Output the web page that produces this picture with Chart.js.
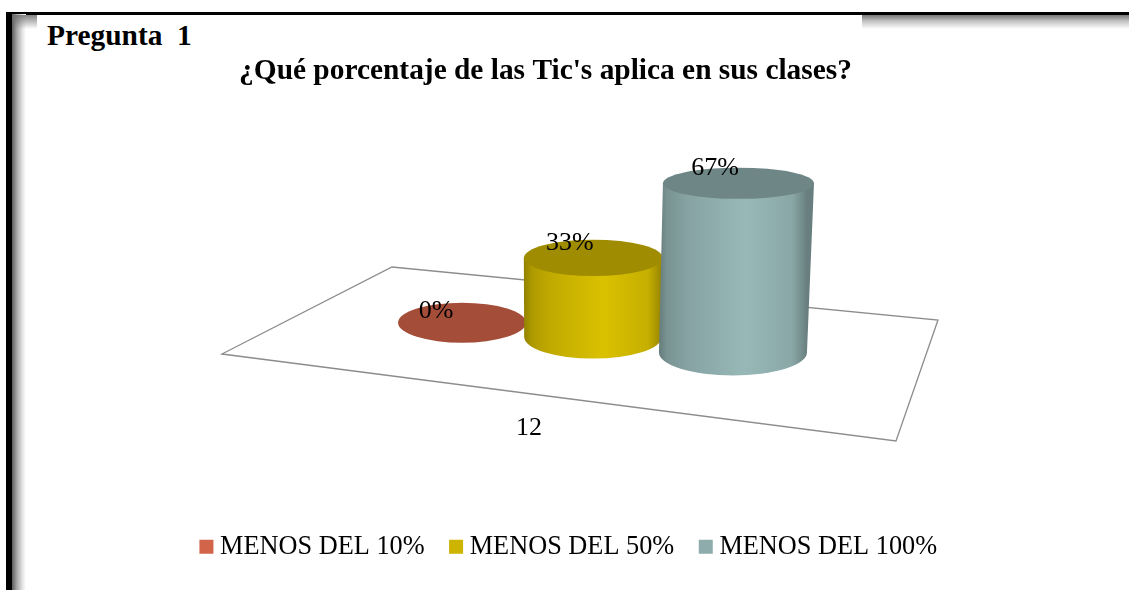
<!DOCTYPE html>
<html lang="es">
<head>
<meta charset="utf-8">
<script src="https://cdn.jsdelivr.net/npm/chart.js@4"></script>
<style>
html,body{margin:0;padding:0;background:#fff;overflow:hidden}
#page{position:relative;width:1129px;height:590px;overflow:hidden;background:#fff}
#page div{position:absolute}
#lineTop{left:6px;top:12px;right:0;height:2.5px;background:#000}
#lineLeft{left:6px;top:12px;width:5.5px;bottom:0;background:#000}
#shadeLeft{left:11.5px;top:14px;width:14px;bottom:0;background:linear-gradient(to right,#5c5c5c,#a8a8a8 35%,#e4e4e4 75%,#fff)}
#shadeTopA{left:11.5px;top:14.5px;width:25px;height:14px;background:linear-gradient(to bottom,rgba(110,110,110,.85),rgba(255,255,255,0))}
#shadeTopB{left:862px;top:14.5px;right:0;height:14px;background:linear-gradient(to bottom,#777,#c4c4c4 45%,#fff)}
#heading{left:47px;top:18px;font:bold 29.4px/34px "Liberation Serif",serif;color:#000;white-space:pre}
canvas{position:absolute;left:0;top:0}
</style>
</head>
<body>
<div id="page">
  <div id="lineTop"></div><div id="shadeLeft"></div><div id="shadeTopA"></div><div id="shadeTopB"></div><div id="lineLeft"></div>
  <div id="heading">Pregunta  1</div>
  <canvas id="c" width="1129" height="590"></canvas>
</div>
<script>
const titleText = "¿Qué porcentaje de las Tic's aplica en sus clases?";
const categories = ["12"];
const seriesNames = ["MENOS DEL 10%", "MENOS DEL 50%", "MENOS DEL 100%"];
const seriesValues = [0, 33, 67];
const seriesColors = ["#d2644a", "#ccb400", "#8eacac"];
const valueLabels = ["0%", "33%", "67%"];

const FLOOR = [[222,354],[392,267],[938,320],[896,441]];
const SERIF = '"Liberation Serif", serif';

function shade(hex, f){
  const n = parseInt(hex.slice(1),16);
  const c = s => Math.min(255,Math.round(((n>>s)&255)*f));
  return `rgb(${c(16)},${c(8)},${c(0)})`;
}
/* camera: maps a bar from the library's scales onto the tilted floor */
function project(bar){
  const x0 = bar.x + 28.5;
  const cx = x0 + 0.000262*(x0-462)*(x0-593);
  const rx = bar.width/2 + (cx-462)*0.037;
  const yb = bar.base + (cx-462)*0.11;
  const ryb = 20 + (cx-462)*0.011;
  const h = (bar.base-bar.y)*(0.967+(cx-593)*0.00036);
  return {
    cx, rx, yb, ryb, h,
    cxt: cx + h*(cx-570)*0.0002,
    rxt: rx + h*0.009,
    yt: yb-h,
    ryt: ryb*(1-h*0.0019)
  };
}
function drawCylinder(ctx, bar){
  const p = project(bar);
  const col = bar.options.backgroundColor;
  ctx.save();
  if(p.h>1){
    const g = ctx.createLinearGradient(p.cx-p.rx,0,p.cx+p.rx,0);
    g.addColorStop(0,shade(col,.72));
    g.addColorStop(.06,shade(col,.86));
    g.addColorStop(.2,shade(col,.95));
    g.addColorStop(.58,shade(col,1.07));
    g.addColorStop(.9,shade(col,.97));
    g.addColorStop(1,shade(col,.74));
    ctx.fillStyle=g;
    ctx.beginPath();
    ctx.moveTo(p.cxt-p.rxt,p.yt);
    ctx.lineTo(p.cx-p.rx,p.yb);
    ctx.ellipse(p.cx,p.yb,p.rx,p.ryb,0,Math.PI,0,true);
    ctx.lineTo(p.cxt+p.rxt,p.yt);
    ctx.closePath();
    ctx.fill();
  }
  ctx.fillStyle=shade(col,.78);
  ctx.beginPath();
  ctx.ellipse(p.cxt,p.yt,p.rxt,p.ryt,0,0,Math.PI*2);
  ctx.fill();
  ctx.restore();
}
/* the library walks datasets last-to-first; cylinders must paint left-to-right */
Chart.BarElement.prototype.draw = function(){};

const floorPlugin = {
  id:'floor',
  beforeDatasetsDraw(chart){
    const c=chart.ctx;
    c.save();
    c.strokeStyle='#8c8c8c';c.lineWidth=1.3;c.lineJoin='miter';
    c.beginPath();
    FLOOR.forEach((p,i)=>i?c.lineTo(p[0],p[1]):c.moveTo(p[0],p[1]));
    c.closePath();c.stroke();
    c.restore();
  }
};
const cylinderPlugin = {
  id:'cylinders',
  afterDatasetsDraw(chart){
    const c=chart.ctx;
    chart.data.datasets.forEach((d,i)=>drawCylinder(c,chart.getDatasetMeta(i).data[0]));
    c.save();
    c.font='26px '+SERIF;c.fillStyle='#000';c.textAlign='center';c.textBaseline='middle';
    chart.data.datasets.forEach((d,i)=>{
      const p=project(chart.getDatasetMeta(i).data[0]);
      c.fillText(valueLabels[i],p.cxt-(p.h>1?23.5:26),p.yt-(p.h>1?15:11.5));
    });
    c.restore();
  }
};
const shiftPlugin = {
  id:'shiftBlocks',
  afterLayout(chart){
    const t=chart.titleBlock;
    if(t){t.left-=19;t.right-=19;}
    const l=chart.legend;
    if(l){l.left+=7;l.right+=7;}
  }
};

new Chart(document.getElementById('c'),{
  type:'bar',
  data:{
    labels:categories,
    datasets:seriesNames.map((n,i)=>({
      label:n,
      data:[seriesValues[i]],
      backgroundColor:seriesColors[i]
    }))
  },
  plugins:[floorPlugin,cylinderPlugin,shiftPlugin],
  options:{
    responsive:false,
    animation:false,
    layout:{padding:{top:55,left:0,right:0,bottom:20}},
    categoryPercentage:0.348,
    barPercentage:0.977,
    plugins:{
      tooltip:{enabled:false},
      title:{display:true,text:titleText,color:'#000',
        font:{family:SERIF,size:29.4,weight:'bold',lineHeight:1.1},padding:{top:0,bottom:0}},
      legend:{
        position:'bottom',
        labels:{
          color:'#000',
          font:{family:SERIF,size:26.3},
          usePointStyle:true,pointStyle:'rect',
          boxWidth:1,boxHeight:14,padding:31
        }
      }
    },
    scales:{
      x:{
        grid:{display:false,drawTicks:false},
        border:{display:false},
        afterFit(s){s.height=180;},
        ticks:{color:'#000',font:{family:SERIF,size:26},padding:90,labelOffset:-35.5,maxRotation:0}
      },
      y:{display:false,min:0,max:94.8}
    }
  }
});
</script>
</body>
</html>
